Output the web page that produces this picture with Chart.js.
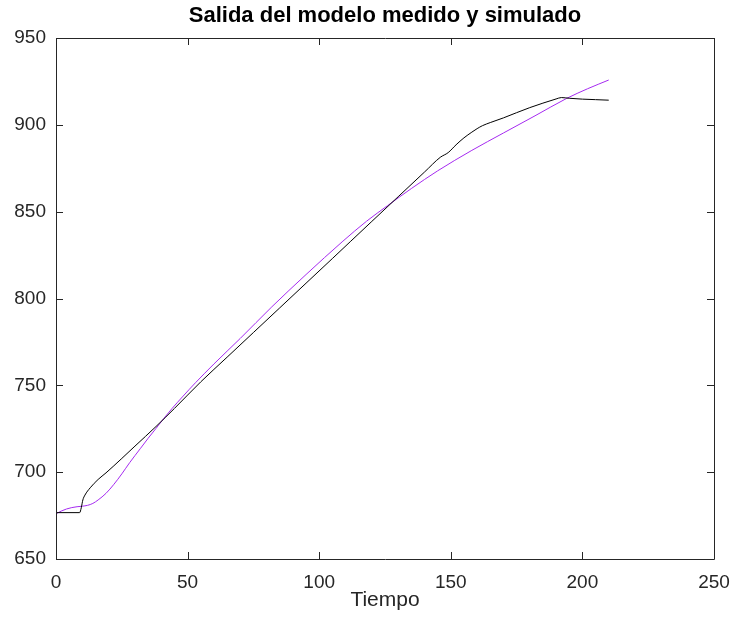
<!DOCTYPE html>
<html>
<head>
<meta charset="utf-8">
<script src="https://cdn.jsdelivr.net/npm/chart.js@4"></script>
<style>
  html, body { margin: 0; padding: 0; background: #fff; }
  #wrap { width: 731px; height: 621px; }
</style>
</head>
<body>
<div id="wrap"><canvas id="chart"></canvas></div>
<script>
// measured output (black)
const tMedido = [0, 9, 9.6, 10.2, 11, 13, 16, 19, 25, 30, 38, 45, 55, 65, 75, 85, 95, 105, 112, 120, 130, 140, 146, 149, 152, 155, 158, 160, 162, 165, 170, 175, 180, 185, 190, 192, 195, 200, 205, 210];
const yMedido = [676.7, 676.7, 679.5, 684, 686.8, 691, 695.8, 699.6, 707.9, 715, 726.3, 736.7, 752, 766.2, 780.4, 794.6, 808.8, 823, 833, 844.4, 858.6, 872.8, 881.3, 884, 888.5, 892.5, 895.8, 897.8, 899.5, 901.3, 904, 907, 909.9, 912.5, 914.9, 915.7, 915.3, 914.8, 914.5, 914.2];

// simulated output (purple)
const tSimulado = [0, 2, 4, 6, 8, 10, 12, 14, 16, 19, 22, 25, 28, 32, 35, 38, 41, 44, 48, 53, 60, 70, 82, 95, 109, 118, 126, 135, 145, 158, 170, 182, 194, 202, 210];
const ySimulado = [676, 677.6, 678.8, 679.6, 680.1, 680.4, 680.9, 682, 684, 687.8, 693, 699, 705.5, 713.5, 719.5, 725.2, 731, 736.5, 743.3, 751.5, 762.3, 777, 795.2, 813.8, 833, 844.5, 853.5, 863.3, 873.5, 885.3, 895.3, 905.2, 915.2, 920.8, 925.8];

const xTicks = [0, 50, 100, 150, 200, 250];
const yTicks = [650, 700, 750, 800, 850, 900, 950];
const TITLE = 'Salida del modelo medido y simulado';

const AXIS_COLOR = '#262626';
const FONT = "'Liberation Sans', Arial, Helvetica, sans-serif";

// MATLAB-like box with inward ticks on all four sides, title centred over the axes
const boxPlugin = {
  id: 'matlabBox',
  afterDatasetsDraw(chart) {
    const { ctx, chartArea: a, scales } = chart;
    const len = 7;
    ctx.save();
    ctx.strokeStyle = AXIS_COLOR;
    ctx.lineWidth = 1;
    ctx.beginPath();
    ctx.rect(Math.round(a.left) + 0.5, Math.round(a.top) + 0.5, Math.round(a.right - a.left), Math.round(a.bottom - a.top));
    scales.x.ticks.forEach(t => {
      const px = Math.round(scales.x.getPixelForValue(t.value)) + 0.5;
      ctx.moveTo(px, a.bottom); ctx.lineTo(px, a.bottom - len);
      ctx.moveTo(px, a.top); ctx.lineTo(px, a.top + len);
    });
    scales.y.ticks.forEach(t => {
      const py = Math.round(scales.y.getPixelForValue(t.value)) + 0.5;
      ctx.moveTo(a.left, py); ctx.lineTo(a.left + len, py);
      ctx.moveTo(a.right, py); ctx.lineTo(a.right - len, py);
    });
    ctx.stroke();

    ctx.fillStyle = '#000';
    ctx.font = 'bold 22px ' + FONT;
    ctx.textAlign = 'center';
    ctx.textBaseline = 'middle';
    ctx.fillText(TITLE, (a.left + a.right) / 2, 16);
    ctx.restore();
  }
};

new Chart(document.getElementById('chart'), {
  type: 'line',
  data: {
    datasets: [
      {
        label: 'Medido',
        data: tMedido.map((t, i) => ({ x: t, y: yMedido[i] })),
        borderColor: '#000000',
        borderWidth: 1,
        pointRadius: 0,
        cubicInterpolationMode: 'monotone',
        fill: false
      },
      {
        label: 'Simulado',
        data: tSimulado.map((t, i) => ({ x: t, y: ySimulado[i] })),
        borderColor: '#a52af0',
        borderWidth: 1,
        pointRadius: 0,
        cubicInterpolationMode: 'monotone',
        fill: false
      }
    ]
  },
  options: {
    responsive: true,
    maintainAspectRatio: false,
    animation: false,
    layout: { padding: { left: 0, right: 17, top: 38, bottom: 0 } },
    plugins: {
      legend: { display: false },
      tooltip: { enabled: false },
      title: { display: false }
    },
    scales: {
      x: {
        type: 'linear',
        min: 0,
        max: 250,
        afterBuildTicks: s => { s.ticks = xTicks.map(v => ({ value: v })); },
        afterFit: s => { s.height = 62; s.paddingLeft = 0; s.paddingRight = 0; },
        grid: { display: false, drawTicks: false },
        border: { display: false },
        ticks: { color: AXIS_COLOR, padding: 12, font: { family: FONT, size: 19 } },
        title: {
          display: true,
          text: 'Tiempo',
          color: AXIS_COLOR,
          font: { family: FONT, size: 21 },
          padding: { top: 0, bottom: 8 }
        }
      },
      y: {
        min: 650,
        max: 950,
        afterBuildTicks: s => { s.ticks = yTicks.map(v => ({ value: v })); },
        afterFit: s => { s.width = 56; s.paddingTop = 0; s.paddingBottom = 0; },
        grid: { display: false, drawTicks: false },
        border: { display: false },
        ticks: { color: AXIS_COLOR, padding: 10, font: { family: FONT, size: 19 } }
      }
    }
  },
  plugins: [boxPlugin]
});
</script>
</body>
</html>
